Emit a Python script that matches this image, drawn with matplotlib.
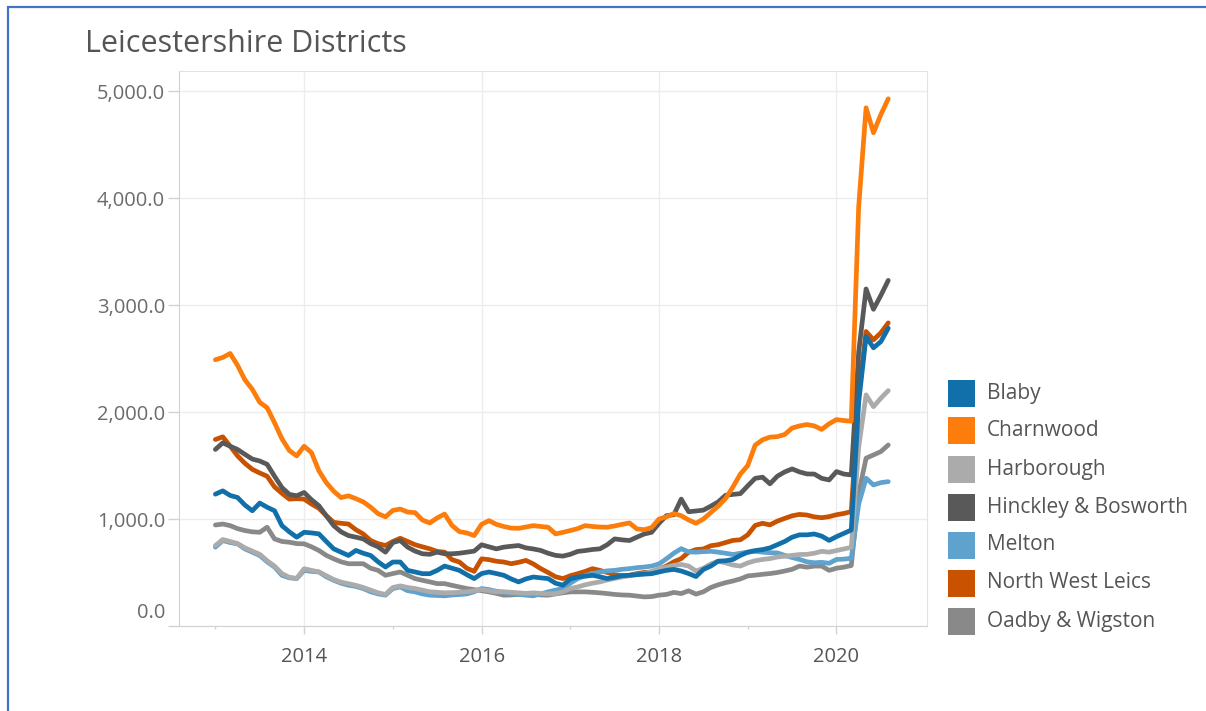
import numpy as np
import matplotlib
matplotlib.use("Agg")
import matplotlib.pyplot as plt
import matplotlib.transforms as mtransforms
from matplotlib.patches import Rectangle
from matplotlib.lines import Line2D
from matplotlib.ticker import FuncFormatter

plt.rcParams['font.family'] = ['Open Sans', 'DejaVu Sans']

# monthly values, Jan 2013 .. Aug 2020
blaby = [1232, 1263, 1220, 1201, 1130, 1077, 1149, 1110, 1077, 938,
         880, 830, 876, 870, 861, 790, 721, 690, 659, 706,
         680, 659, 600, 551, 598, 598, 520, 505, 489, 489,
         520, 560, 540, 520, 480, 443, 490, 505, 490, 474,
         440, 412, 440, 458, 450, 443, 400, 381, 440, 458,
         465, 474, 460, 443, 455, 470, 474, 480, 485, 489,
         505, 520, 529, 514, 490, 462, 529, 560, 606, 610,
         622, 660, 690, 705, 714, 730, 760, 790, 830, 852,
         852, 860, 840, 800, 835, 866, 897, 2090, 2705, 2600,
         2658, 2783]
charnwood = [2488, 2510, 2547, 2436, 2300, 2211, 2090, 2040, 1900, 1750,
             1640, 1590, 1680, 1620, 1450, 1340, 1260, 1200, 1217, 1190,
             1160, 1110, 1050, 1020, 1080, 1093, 1065, 1060, 990, 963,
             1010, 1046, 940, 882, 870, 845, 950, 985, 950, 930,
             915, 913, 925, 938, 930, 923, 861, 875, 892, 910,
             938, 930, 925, 923, 935, 950, 963, 907, 900, 920,
             1000, 1020, 1050, 1031, 991, 960, 1000, 1060, 1120, 1191,
             1300, 1420, 1500, 1690, 1740, 1765, 1770, 1790, 1850, 1870,
             1883, 1870, 1837, 1890, 1929, 1920, 1914, 3918, 4843, 4610,
             4780, 4927]
harborough = [752, 808, 790, 770, 730, 700, 670, 610, 560, 490,
              455, 445, 535, 520, 505, 470, 435, 410, 395, 380,
              360, 335, 310, 295, 360, 375, 360, 350, 335, 320,
              315, 310, 312, 315, 320, 330, 340, 330, 319, 320,
              315, 310, 305, 310, 305, 300, 303, 320, 350, 365,
              385, 400, 412, 430, 445, 458, 470, 480, 489, 510,
              536, 550, 567, 575, 560, 514, 540, 580, 606, 590,
              570, 560, 590, 610, 622, 630, 645, 652, 660, 668,
              670, 680, 698, 690, 705, 720, 735, 1670, 2160, 2050,
              2129, 2200]
hinckley = [1650, 1712, 1680, 1650, 1604, 1560, 1542, 1511, 1400, 1294,
            1230, 1217, 1248, 1180, 1124, 1030, 938, 880, 845, 830,
            814, 770, 740, 690, 780, 799, 737, 700, 675, 670,
            690, 675, 675, 680, 690, 700, 759, 740, 721, 737,
            745, 752, 730, 720, 706, 680, 660, 653, 670, 697,
            705, 715, 721, 760, 814, 805, 799, 830, 860, 876,
            960, 1031, 1040, 1186, 1068, 1075, 1083, 1120, 1160, 1222,
            1230, 1237, 1310, 1380, 1391, 1329, 1400, 1440, 1468, 1440,
            1421, 1420, 1380, 1365, 1443, 1420, 1412, 2560, 3150, 2960,
            3090, 3230]
melton = [737, 799, 780, 768, 720, 690, 659, 600, 551, 474,
          450, 443, 520, 510, 505, 460, 427, 400, 381, 370,
          350, 320, 300, 288, 350, 365, 330, 319, 300, 288,
          285, 282, 290, 294, 300, 320, 350, 340, 325, 315,
          303, 295, 288, 282, 300, 319, 335, 350, 400, 443,
          470, 490, 505, 515, 520, 530, 536, 545, 551, 560,
          580, 628, 680, 723, 692, 690, 695, 698, 690, 680,
          668, 680, 690, 698, 690, 685, 683, 660, 640, 622,
          600, 591, 595, 586, 622, 625, 633, 1140, 1381, 1318,
          1340, 1349]
nw_leics = [1743, 1768, 1681, 1590, 1520, 1464, 1430, 1400, 1300, 1240,
            1186, 1190, 1186, 1140, 1100, 1031, 969, 960, 953, 900,
            860, 799, 770, 752, 790, 820, 790, 760, 740, 721,
            697, 690, 620, 598, 540, 511, 628, 620, 605, 598,
            582, 595, 613, 580, 536, 500, 460, 443, 470, 489,
            510, 536, 520, 500, 480, 470, 474, 490, 500, 505,
            530, 560, 600, 630, 690, 714, 720, 750, 760, 780,
            800, 806, 852, 940, 960, 945, 980, 1006, 1030, 1043,
            1037, 1020, 1012, 1022, 1040, 1052, 1069, 2170, 2752, 2674,
            2740, 2833]
oadby = [944, 953, 938, 910, 892, 880, 876, 923, 814, 790,
         783, 770, 768, 740, 706, 660, 628, 600, 582, 582,
         582, 540, 520, 474, 490, 505, 474, 443, 427, 412,
         396, 396, 380, 365, 350, 340, 330, 319, 305, 288,
         290, 295, 303, 300, 290, 288, 300, 310, 319, 319,
         319, 315, 310, 303, 295, 290, 288, 280, 272, 275,
         288, 295, 314, 303, 329, 298, 320, 360, 385, 405,
         421, 440, 468, 475, 483, 490, 500, 514, 530, 560,
         550, 560, 560, 520, 540, 550, 565, 1240, 1568, 1599,
         1630, 1692]

districts = ["Blaby", "Charnwood", "Harborough", "Hinckley & Bosworth",
             "Melton", "North West Leics", "Oadby & Wigston"]
series = [blaby, charnwood, harborough, hinckley, melton, nw_leics, oadby]
colors = ["#1170aa", "#fc7d0b", "#ababab", "#595959",
          "#5fa2ce", "#c85200", "#898989"]

W, H = 1206, 711
fig = plt.figure(figsize=(W / 100, H / 100), dpi=100)
ax = fig.add_axes([179 / W, 1 - 626 / H, (927 - 179) / W, (626 - 71) / H])

months = 2013 + np.arange(len(blaby)) / 12
# reverse order so Blaby ends on top, Harborough over Melton
order = [6, 5, 4, 3, 2, 1, 0]
for k, i in enumerate(order):
    ax.plot(months, series[i], color=colors[i], lw=3.4,
            solid_joinstyle='round', solid_capstyle='round', zorder=3 + k)

ax.set_xlim(2012.59, 2021.02)
ax.set_ylim(0, 5187)
ax.set_yticks(range(0, 5001, 1000))
ax.yaxis.set_major_formatter(FuncFormatter(lambda v, p: f"{v:,.1f}"))
ax.set_xticks([2014, 2016, 2018, 2020])
ax.set_xticks([2013, 2015, 2017, 2019], minor=True)

ax.grid(True, which='major', color='#ececec', lw=1)
ax.set_axisbelow(True)
for side in ['top', 'right']:
    ax.spines[side].set_color('#e3e3e3')
for side in ['left', 'bottom']:
    ax.spines[side].set_color('#d2d2d2')

ax.tick_params(axis='y', length=8, width=1, color='#d2d2d2', pad=2,
               labelsize=14.5, labelcolor='#6b6b6b')
ax.tick_params(axis='x', which='major', length=6, width=1, color='#d2d2d2',
               pad=9, labelsize=14.5, labelcolor='#555555')
ax.tick_params(axis='x', which='minor', length=2.5, width=1, color='#d2d2d2')

# Tableau lifts the bottom label inside the pane
zero_lbl = ax.yaxis.get_major_ticks()[0].label1
zero_lbl.set_transform(zero_lbl.get_transform() +
                       mtransforms.ScaledTranslation(0, 0.16, fig.dpi_scale_trans))

fig.text(85 / W, 1 - 44 / H, "Leicestershire Districts", fontsize=22,
         color='#555555', va='center', ha='left')

# legend
for j, (name, c) in enumerate(zip(districts, colors)):
    yc = 393 + 38 * j
    fig.add_artist(Rectangle((948 / W, 1 - (yc + 13.5) / H), 27 / W, 27 / H,
                             transform=fig.transFigure, facecolor=c,
                             edgecolor='none'))
    fig.text(987 / W, 1 - yc / H, name, fontsize=15, color='#555555',
             va='center', ha='left')

# screenshot frame (top and left edges only)
fig.add_artist(Line2D([7 / W, 1], [1 - 6.5 / H, 1 - 6.5 / H],
                      transform=fig.transFigure, color='#4472c4', lw=1.6,
                      solid_capstyle='butt'))
fig.add_artist(Line2D([7.5 / W, 7.5 / W], [0, 1 - 6 / H],
                      transform=fig.transFigure, color='#4472c4', lw=1.6,
                      solid_capstyle='butt'))

fig.savefig("out.png", dpi=100)
